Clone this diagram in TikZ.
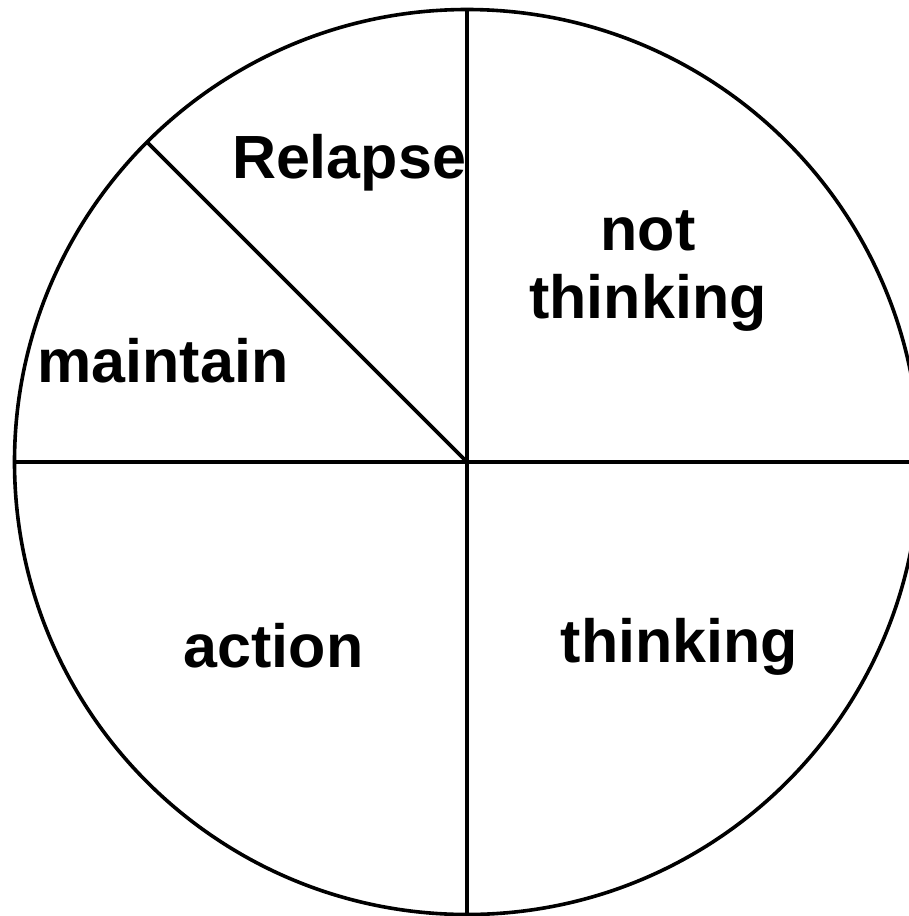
\documentclass[tikz,border=0pt]{standalone}
\usepackage{fontspec}
\setmainfont{Liberation Sans}
\begin{document}
\begin{tikzpicture}[x=1pt,y=-1pt,
  lbl/.style={font=\fontsize{61}{68}\selectfont\bfseries, inner sep=0pt, anchor=base, align=center},
  wheel/.style={circle, draw, line width=3.6pt, minimum size=905pt, inner sep=0pt, outer sep=0pt},
  spoke/.style={line width=3.6pt}]
\useasboundingbox (0,0) rectangle (909,916);
\clip (0,0) rectangle (909,916);
\node[wheel] (c) at (467,462) {};
\draw[spoke] (c.center) -- (c.north);
\draw[spoke] (c.center) -- (c.south);
\draw[spoke] (c.center) -- (c.west);
\draw[spoke] (c.center) -- (c.east);
\draw[spoke] (c.center) -- (c.135);
\node[lbl] (relapse) at (349,178) {Relapse};
\node[lbl] (notthinking) at (648,318) {not\\thinking};
\node[lbl] (maintain) at (163,382) {maintain};
\node[lbl] (action) at (273.5,667) {action};
\node[lbl] (thinking) at (679.5,662) {thinking};
\end{tikzpicture}
\end{document}
